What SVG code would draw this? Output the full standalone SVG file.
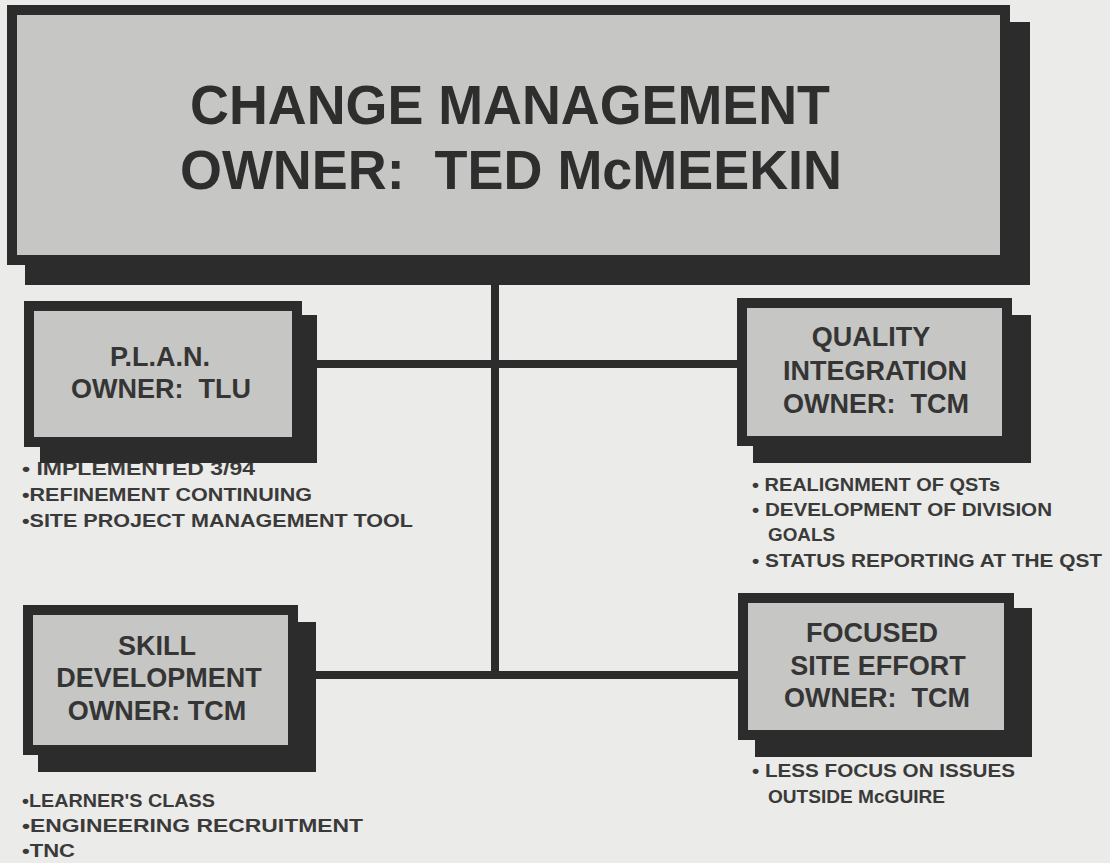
<svg xmlns="http://www.w3.org/2000/svg" width="1110" height="863" viewBox="0 0 1110 863">
  <style>
    .bg { fill: #ebebe9; }
    .shadow { fill: #2c2c2c; }
    .box { fill: #c6c6c4; stroke: #2c2c2c; stroke-width: 10; }
    .title { font-family: "Liberation Sans", Arial, sans-serif; font-weight: bold; font-size: 56px; fill: #2e2e2e; text-anchor: middle; }
    .label { font-family: "Liberation Sans", Arial, sans-serif; font-weight: bold; font-size: 27px; fill: #353535; text-anchor: middle; }
    .note { font-family: "Liberation Sans", Arial, sans-serif; font-weight: bold; font-size: 19px; fill: #3a3a3a; }
    .wire { stroke: #2c2c2c; stroke-width: 8; fill: none; }
  </style>
  <rect class="bg" x="0" y="0" width="1110" height="863"/>

  <!-- connectors -->
  <g id="connectors">
    <line class="wire" x1="495" y1="280" x2="495" y2="678"/>
    <line class="wire" x1="312" y1="364" x2="742" y2="364"/>
    <line class="wire" x1="310" y1="675" x2="744" y2="675"/>
  </g>

  <!-- top-level node -->
  <g id="change-management">
    <rect class="shadow" x="25" y="22" width="1005" height="263"/>
    <rect class="box" x="12" y="10" width="993" height="250"/>
    <text class="title" x="510" y="124" textLength="640" lengthAdjust="spacingAndGlyphs">CHANGE MANAGEMENT</text>
    <text class="title" x="511" y="189" textLength="662" lengthAdjust="spacingAndGlyphs" xml:space="preserve">OWNER:  TED McMEEKIN</text>
  </g>

  <g id="plan">
    <!-- first note sits just under the box shadow, which overlaps its top -->
    <text class="note" x="22" y="475" textLength="233" lengthAdjust="spacingAndGlyphs">• IMPLEMENTED 3/94</text>
    <rect class="shadow" x="40" y="315" width="277" height="148"/>
    <rect class="box" x="29" y="306" width="268" height="136"/>
    <text class="label" x="160" y="366">P.L.A.N.</text>
    <text class="label" x="161" y="398" xml:space="preserve">OWNER:  TLU</text>
    <text class="note" x="22" y="501" textLength="290" lengthAdjust="spacingAndGlyphs">•REFINEMENT CONTINUING</text>
    <text class="note" x="22" y="527" textLength="391" lengthAdjust="spacingAndGlyphs">•SITE PROJECT MANAGEMENT TOOL</text>
  </g>

  <g id="quality-integration">
    <rect class="shadow" x="753" y="315" width="278" height="148"/>
    <rect class="box" x="742" y="303" width="265" height="138"/>
    <text class="label" x="871" y="346">QUALITY</text>
    <text class="label" x="875" y="380">INTEGRATION</text>
    <text class="label" x="876" y="413" xml:space="preserve">OWNER:  TCM</text>
    <text class="note" x="752" y="491" textLength="248" lengthAdjust="spacingAndGlyphs">• REALIGNMENT OF QSTs</text>
    <text class="note" x="752" y="516" textLength="300" lengthAdjust="spacingAndGlyphs">• DEVELOPMENT OF DIVISION</text>
    <text class="note" x="768" y="541" textLength="67" lengthAdjust="spacingAndGlyphs">GOALS</text>
    <text class="note" x="752" y="567" textLength="350" lengthAdjust="spacingAndGlyphs">• STATUS REPORTING AT THE QST</text>
  </g>

  <g id="skill-development">
    <rect class="shadow" x="38" y="622" width="278" height="150"/>
    <rect class="box" x="28" y="610" width="265" height="140"/>
    <text class="label" x="157" y="655">SKILL</text>
    <text class="label" x="159" y="687">DEVELOPMENT</text>
    <text class="label" x="157" y="720">OWNER: TCM</text>
    <text class="note" x="22" y="807" textLength="193" lengthAdjust="spacingAndGlyphs">•LEARNER'S CLASS</text>
    <text class="note" x="22" y="832" textLength="341" lengthAdjust="spacingAndGlyphs">•ENGINEERING RECRUITMENT</text>
    <text class="note" x="22" y="857" textLength="53" lengthAdjust="spacingAndGlyphs">•TNC</text>
  </g>

  <g id="focused-site-effort">
    <rect class="shadow" x="755" y="608" width="277" height="149"/>
    <rect class="box" x="743" y="598" width="266" height="137"/>
    <text class="label" x="872" y="642">FOCUSED</text>
    <text class="label" x="878" y="675">SITE EFFORT</text>
    <text class="label" x="877" y="707" xml:space="preserve">OWNER:  TCM</text>
    <text class="note" x="752" y="777" textLength="263" lengthAdjust="spacingAndGlyphs">• LESS FOCUS ON ISSUES</text>
    <text class="note" x="768" y="803" textLength="177" lengthAdjust="spacingAndGlyphs">OUTSIDE McGUIRE</text>
  </g>
</svg>
